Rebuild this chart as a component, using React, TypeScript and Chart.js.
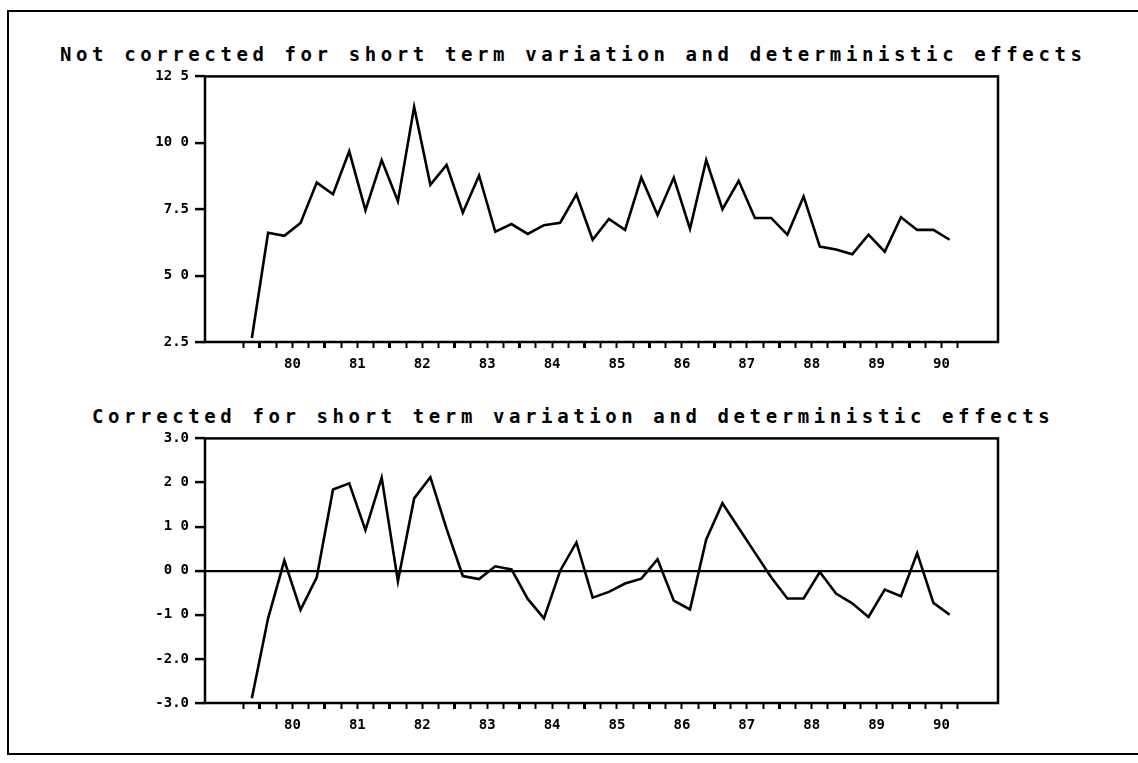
import React, { useEffect, useRef } from "react";
import { Chart, registerables } from "chart.js";
Chart.register(...registerables);

const quarters: number[] = [];
for (let i = 0; i < 44; i++) quarters.push(1979.75 + i * 0.25 + 0.125);

const notCorrected = [2.65, 6.61, 6.5, 6.98, 8.5, 8.06, 9.68, 7.46, 9.35, 7.8, 11.35, 8.42, 9.17, 7.37, 8.77, 6.65,
  6.94, 6.57, 6.9, 6.99, 8.06, 6.35, 7.13, 6.72, 8.69, 7.28, 8.69, 6.76, 9.35, 7.5, 8.57, 7.17, 7.17, 6.54, 7.98, 6.09,
  5.98, 5.8, 6.54, 5.9, 7.2, 6.72, 6.72, 6.35];
const corrected = [-2.89, -1.08, 0.23, -0.89, -0.15, 1.84, 1.98, 0.92, 2.11, -0.24, 1.64, 2.12, 0.95, -0.12, -0.19, 0.1,
  0.03, -0.64, -1.08, 0.0, 0.64, -0.61, -0.48, -0.29, -0.18, 0.26, -0.68, -0.88, 0.71, 1.53, 0.97, 0.41, -0.15, -0.63,
  -0.63, -0.03, -0.52, -0.74, -1.05, -0.43, -0.58, 0.4, -0.73, -1.0];

const topTicks = [2.5, 5, 7.5, 10, 12.5];
const topTickLabels = ["2.5", "5 0", "7.5", "10 0", "12 5"];
const botTicks = [-3, -2, -1, 0, 1, 2, 3];
const botTickLabels = ["-3.0", "-2.0", "-1 0", "0 0", "1 0", "2 0", "3.0"];

const titleTop = "Not corrected for short term variation and deterministic effects";
const titleBot = "Corrected for short term variation and deterministic effects";

const frame = {
  id: "frame",
  afterDraw(chart: any) {
    const { ctx, chartArea: a } = chart;
    ctx.save();
    ctx.strokeStyle = "#000";
    ctx.lineWidth = 2.5;
    ctx.strokeRect(a.left, a.top, a.right - a.left, a.bottom - a.top);
    ctx.restore();
  },
};

const tickFont = { family: "DejaVu Sans Mono", size: 14, weight: "bold" as const };

function makeChart(canvas: HTMLCanvasElement, data: number[], yTicks: number[], yLabels: string[], xH: number, zero: boolean) {
  return new Chart(canvas, {
    type: "line",
    data: {
      datasets: [{
        data: data.map((v, i) => ({ x: quarters[i], y: v })),
        borderColor: "#000",
        borderWidth: 2.6,
        pointRadius: 0,
        tension: 0,
      }],
    },
    plugins: [frame],
    options: {
      animation: false,
      responsive: false,
      layout: { padding: { left: 0, top: 10, right: 22, bottom: 0 } },
      plugins: { legend: { display: false }, tooltip: { enabled: false } },
      scales: {
        x: {
          type: "linear",
          min: 1979.153,
          max: 1991.37,
          afterBuildTicks: (s: any) => {
            const t = [];
            for (let i = 0; i <= 44; i++) t.push({ value: 1979.75 + i * 0.25 });
            s.ticks = t;
          },
          afterFit: (s: any) => { s.height = xH; },
          border: { display: false },
          grid: {
            drawOnChartArea: false,
            tickLength: 6,
            tickColor: "#000",
            tickWidth: (c: any) => (Math.abs(c.tick.value % 1) < 1e-6 ? 3 : 2),
          },
          ticks: {
            autoSkip: false,
            maxRotation: 0,
            padding: 8,
            color: "#000",
            font: tickFont,
            callback: (v: any) => (Math.abs((v % 1) - 0.5) < 1e-6 ? String(Math.floor(v) % 100) : ""),
          },
        },
        y: {
          min: yTicks[0],
          max: yTicks[yTicks.length - 1],
          afterBuildTicks: (s: any) => { s.ticks = yTicks.map((v) => ({ value: v })); },
          afterFit: (s: any) => { s.width = 85; },
          border: { display: false },
          grid: {
            drawOnChartArea: zero,
            color: (c: any) => (zero && c.tick && c.tick.value === 0 ? "#000" : "rgba(0,0,0,0)"),
            lineWidth: 2.2,
            tickLength: 10,
            tickColor: "#000",
            tickWidth: 2.5,
          },
          ticks: {
            padding: 6,
            color: "#000",
            font: tickFont,
            callback: (v: any) => yLabels[yTicks.indexOf(Number(v))] ?? "",
          },
        },
      },
    },
  } as any);
}

export default function App() {
  const r1 = useRef<HTMLCanvasElement>(null);
  const r2 = useRef<HTMLCanvasElement>(null);
  useEffect(() => {
    const c1 = makeChart(r1.current!, notCorrected, topTicks, topTickLabels, 40, false);
    const c2 = makeChart(r2.current!, corrected, botTicks, botTickLabels, 41, true);
    return () => { c1.destroy(); c2.destroy(); };
  }, []);
  const titleStyle: React.CSSProperties = {
    position: "absolute",
    fontFamily: "DejaVu Sans Mono",
    fontWeight: "bold",
    fontSize: 19,
    letterSpacing: "4.6px",
    whiteSpace: "nowrap",
    lineHeight: "20px",
    color: "#000",
  };
  return (
    <div style={{ position: "fixed", left: 0, top: 0, width: 1138, height: 763, overflow: "hidden", background: "#fff" }}>
      <div style={{ position: "absolute", left: 7, top: 10, width: 1140, height: 745, border: "2px solid #000", boxSizing: "border-box" }} />
      <div style={{ ...titleStyle, left: 60, top: 44 }}>{titleTop}</div>
      <div style={{ ...titleStyle, left: 92, top: 406 }}>{titleBot}</div>
      <canvas ref={r1} width={900} height={320} style={{ position: "absolute", left: 120, top: 62, width: 900, height: 320 }} />
      <canvas ref={r2} width={900} height={320} style={{ position: "absolute", left: 120, top: 424, width: 900, height: 320 }} />
    </div>
  );
}
